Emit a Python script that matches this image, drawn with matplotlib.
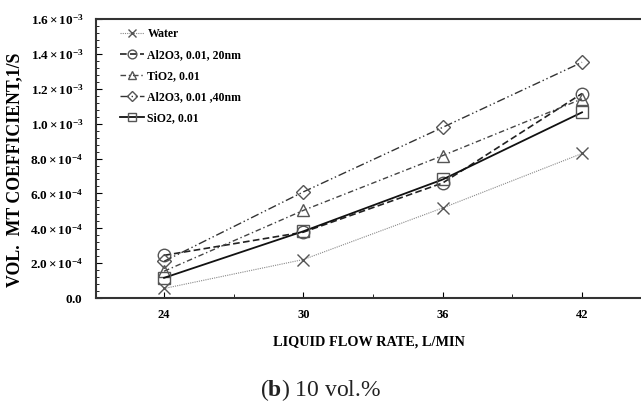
import numpy as np
import matplotlib
matplotlib.use("Agg")
import matplotlib.pyplot as plt

plt.rcParams['font.family'] = ['Liberation Serif', 'DejaVu Serif']
plt.rcParams['mathtext.fontset'] = 'custom'
plt.rcParams['mathtext.rm'] = 'Liberation Serif'
plt.rcParams['mathtext.bf'] = 'Liberation Serif:bold'
plt.rcParams['mathtext.it'] = 'Liberation Serif:italic'

# data
flow = [24, 30, 36, 42]
water = [0.055e-3, 0.221e-3, 0.517e-3, 0.829e-3]
al2o3_20 = [0.245e-3, 0.378e-3, 0.660e-3, 1.173e-3]
tio2 = [0.154e-3, 0.503e-3, 0.817e-3, 1.142e-3]
al2o3_40 = [0.211e-3, 0.609e-3, 0.979e-3, 1.352e-3]
sio2 = [0.116e-3, 0.383e-3, 0.680e-3, 1.065e-3]

ytick_vals = [0, 0.2e-3, 0.4e-3, 0.6e-3, 0.8e-3, 1.0e-3, 1.2e-3, 1.4e-3, 1.6e-3]
ytick_labels = [r'$\mathbf{0.0}$',
                r'$\mathbf{2.0\times10^{-4}}$', r'$\mathbf{4.0\times10^{-4}}$',
                r'$\mathbf{6.0\times10^{-4}}$', r'$\mathbf{8.0\times10^{-4}}$',
                r'$\mathbf{1.0\times10^{-3}}$', r'$\mathbf{1.2\times10^{-3}}$',
                r'$\mathbf{1.4\times10^{-3}}$', r'$\mathbf{1.6\times10^{-3}}$']

fig = plt.figure(figsize=(6.41, 4.05), dpi=100)
ax = fig.add_axes([0.1498, 0.264, 0.8502, 0.689])

mc = '#555555'
series = [
    (water, 'Water', 'x', (0, (1, 1)), 0.8, '#888888'),
    (al2o3_20, 'Al2O3, 0.01, 20nm', 'o', (0, (4, 2)), 1.2, '#222222'),
    (tio2, 'TiO2, 0.01', '^', (0, (4, 2, 1, 2)), 1.0, '#444444'),
    (al2o3_40, 'Al2O3, 0.01 ,40nm', 'D', (0, (6, 2, 1, 2, 1, 2)), 1.0, '#333333'),
    (sio2, 'SiO2, 0.01', 's', '-', 1.3, '#111111'),
]
for vals, lab, mk, ls, lw, col in series:
    ms = 7 if mk == 'D' else 9
    ax.plot(flow, vals, linestyle=ls, linewidth=lw, color=col, marker=mk,
            markersize=ms, markerfacecolor='none', markeredgecolor=mc,
            markeredgewidth=1.0, label=lab)

ax.set_xlim(21.07, 44.54)
ax.set_ylim(0, 1.6e-3)
ax.set_xticks(flow)
ax.set_xticks([27, 33, 39], minor=True)
ax.set_xticklabels([str(v) for v in flow], fontweight='bold', fontsize=9)
ax.set_yticks(ytick_vals)
ax.set_yticks(np.arange(0, 1.6e-3, 0.04e-3), minor=True)
ax.set_yticklabels(ytick_labels, fontsize=9.5)
ax.tick_params(direction='in', length=4, width=0.8, pad=8)
ax.tick_params(axis='x', which='minor', direction='in', length=3)
ax.tick_params(axis='y', which='minor', direction='in', length=2, width=0.6)
ax.tick_params(axis='y', pad=9)

for s in ['left', 'bottom', 'top']:
    ax.spines[s].set_linewidth(1.5)
    ax.spines[s].set_color('#333333')
ax.spines['right'].set_visible(False)

ax.set_xlabel('LIQUID FLOW RATE, L/MIN', fontweight='bold', fontsize=10.3, labelpad=10)
ax.set_ylabel('VOL.  MT COEFFICIENT,1/S', fontweight='bold', fontsize=12.8)
ax.yaxis.set_label_coords(-0.133, 0.459)

leg = ax.legend(loc='upper left', bbox_to_anchor=(0.025, 1.005), frameon=False,
                prop={'weight': 'bold', 'size': 8.5}, handlelength=2.0,
                handletextpad=0.3, labelspacing=0.75, markerscale=0.7)

fig.text(0.5, 0.037, r'($\mathbf{b}$) 10 vol.%', ha='center', va='center',
         fontsize=17, color='#222222')

fig.savefig('out.png', dpi=100)
